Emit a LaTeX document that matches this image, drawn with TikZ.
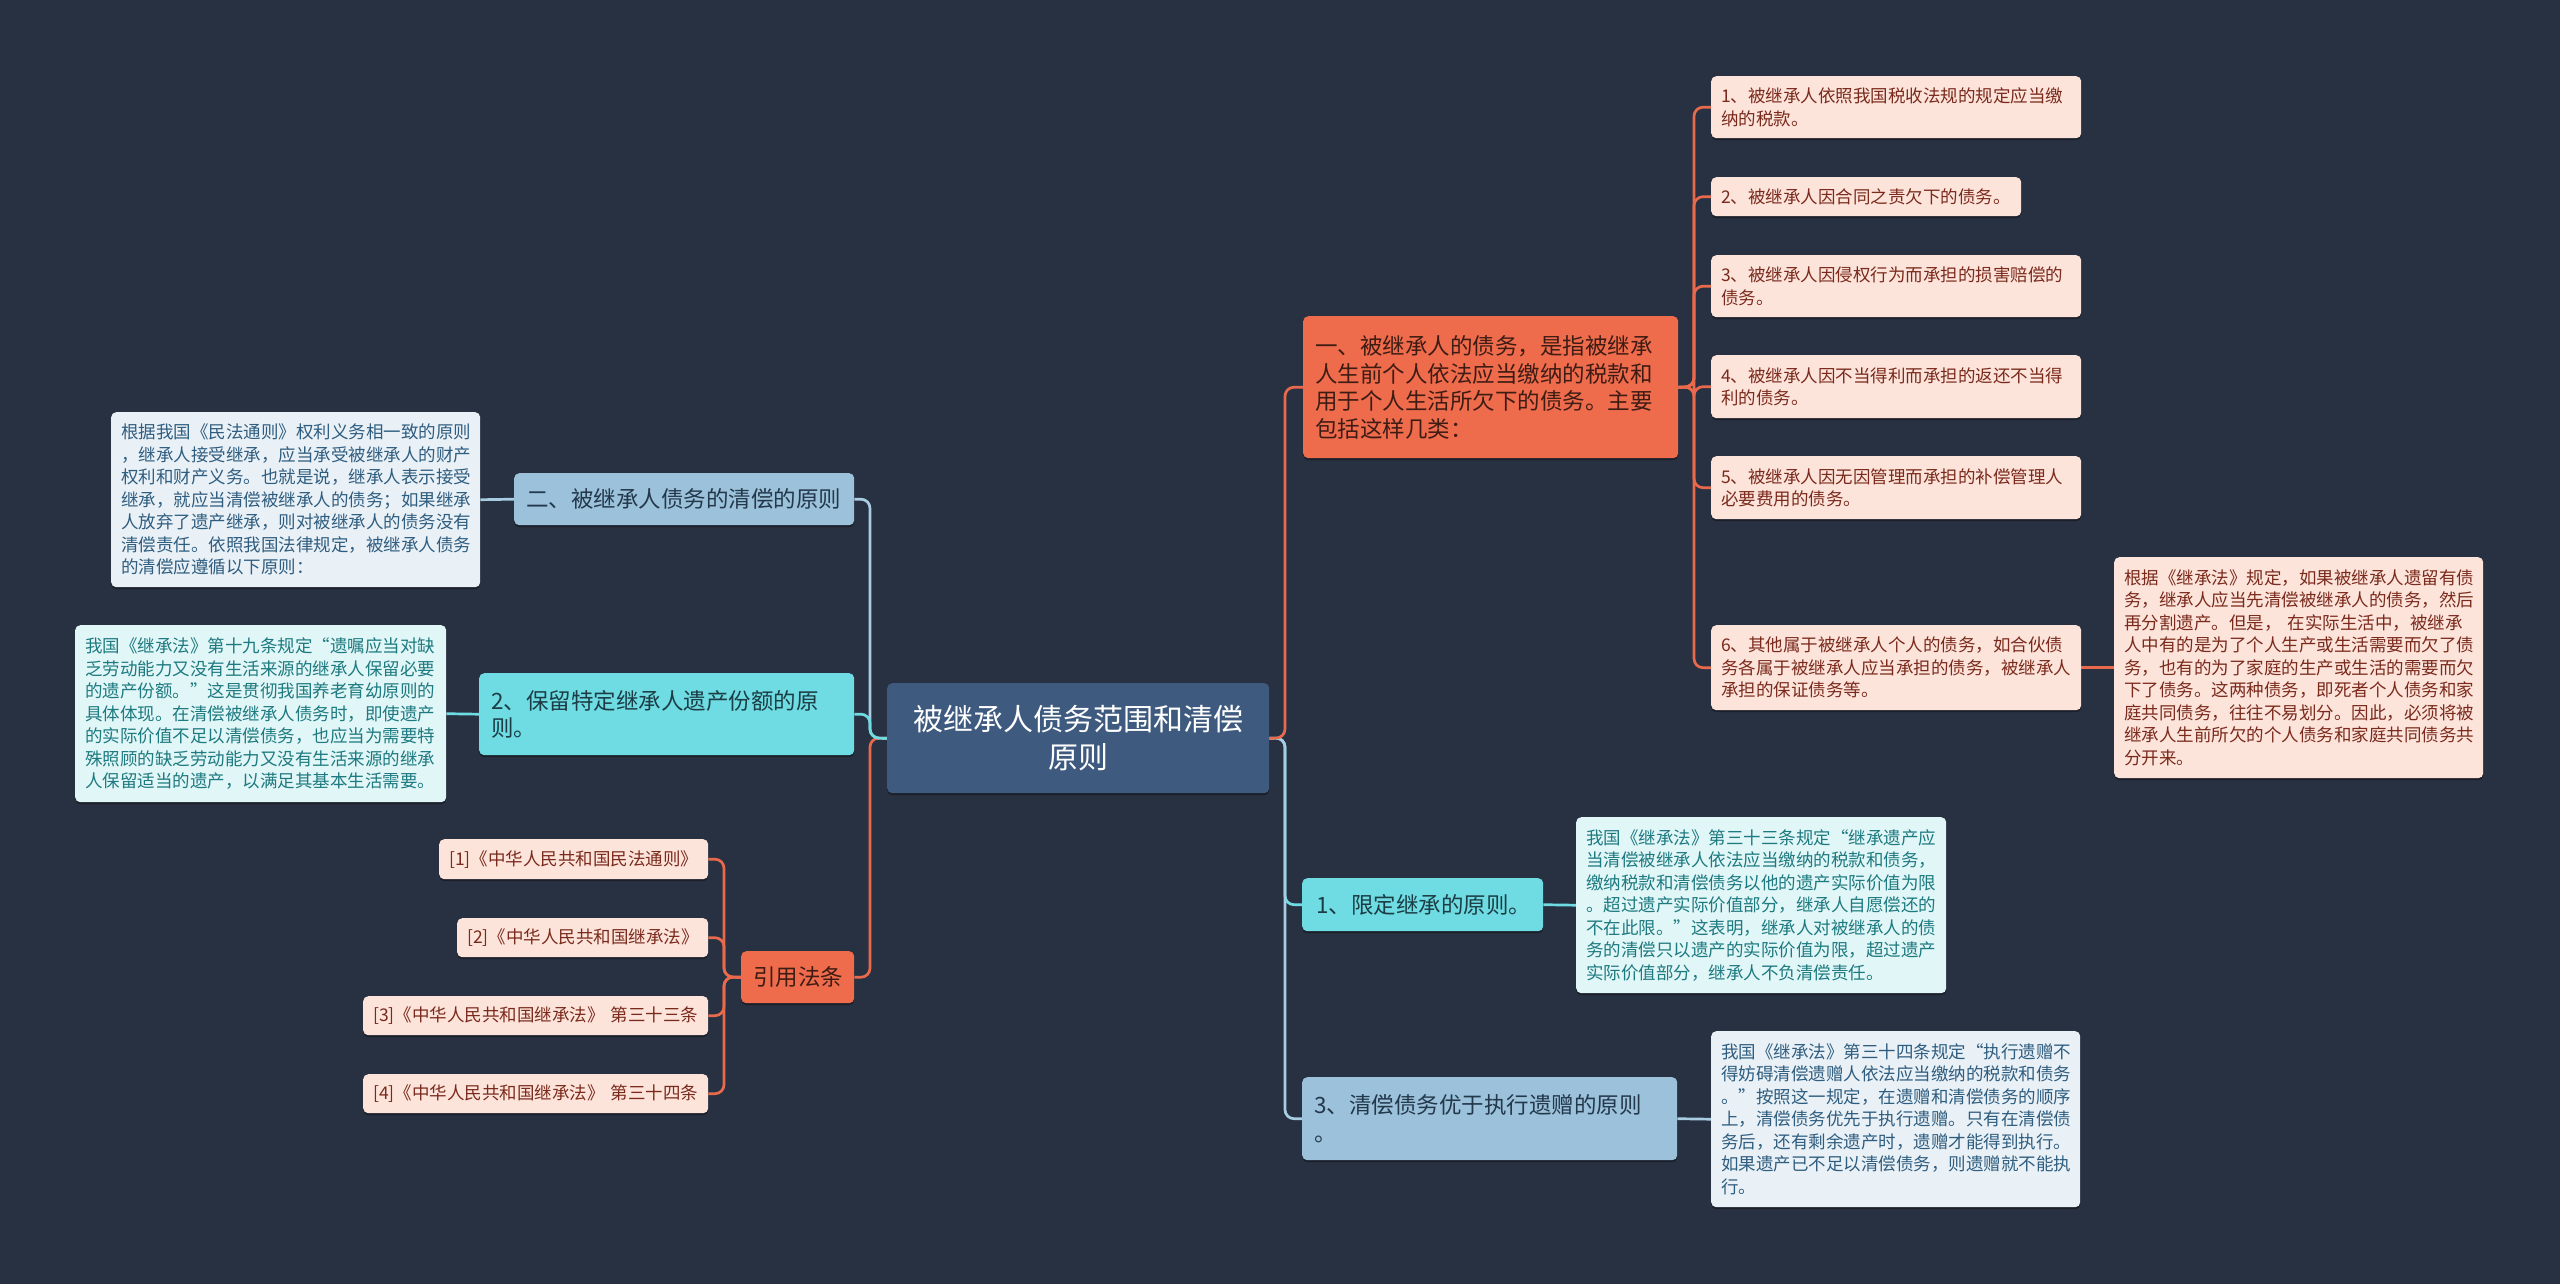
\documentclass[tikz,border=0pt]{standalone}
\usepackage{fontspec}
\setmainfont{Noto Sans CJK SC}
\usetikzlibrary{shadows,backgrounds}
\definecolor{bg}{HTML}{283141}
\definecolor{ctrfill}{HTML}{3E5A7E}
\definecolor{orng}{HTML}{EE6B4C}
\definecolor{orngline}{HTML}{E8694B}
\definecolor{orngtext}{HTML}{3E1C14}
\definecolor{pink}{HTML}{FDE4DB}
\definecolor{pinktext}{HTML}{7A2A1C}
\definecolor{lblue}{HTML}{9BC2DA}
\definecolor{lblueline}{HTML}{A8CDE3}
\definecolor{lbluetext}{HTML}{24384C}
\definecolor{cyan}{HTML}{6EDCE2}
\definecolor{cyantext}{HTML}{1C3D45}
\definecolor{noteblue}{HTML}{E9F1F7}
\definecolor{notebluetext}{HTML}{2F5D7F}
\definecolor{notecyan}{HTML}{E1F6F7}
\definecolor{notecyantext}{HTML}{1D7A80}
\tikzset{
  basebox/.style={rounded corners=5pt, inner ysep=0pt, anchor=north west, align=left,
    drop shadow={shadow xshift=0pt, shadow yshift=-2pt, opacity=0.35, fill=black}},
  big/.style={basebox, inner xsep=12pt, font=\fontsize{22.5}{27.5}\selectfont},
  small/.style={basebox, inner xsep=10pt, font=\fontsize{17.5}{22.5}\selectfont},
  ctrbox/.style={basebox, fill=ctrfill, text=white, align=center, inner xsep=12pt,
    font=\fontsize{30}{38}\selectfont},
  orbox/.style={big, fill=orng, text=orngtext},
  lbbox/.style={big, fill=lblue, text=lbluetext},
  cybox/.style={big, fill=cyan, text=cyantext},
  leaf/.style={small, fill=pink, text=pinktext},
  nblue/.style={small, fill=noteblue, text=notebluetext},
  ncyan/.style={small, fill=notecyan, text=notecyantext},
  oline/.style={draw=orngline, line width=2.7pt, rounded corners=9pt},
  bline/.style={draw=lblueline, line width=2.7pt, rounded corners=9pt},
  cline/.style={draw=cyan, line width=2.7pt, rounded corners=9pt},
}
\begin{document}
\begin{tikzpicture}[x=1pt, y=-1pt]
\useasboundingbox (0,0) rectangle (2560,1283);

% center
\node[ctrbox, text width=358pt, minimum height=110pt] (ctr) at (887,683) {被继承人债务范围和清偿\\原则};

% right first level
\node[orbox, text width=351pt, minimum height=142pt] (A) at (1303,316)
 {一、被继承人的债务，是指被继承\\人生前个人依法应当缴纳的税款和\\用于个人生活所欠下的债务。主要\\包括这样几类：};
\node[cybox, inner xsep=14pt, text width=213pt, minimum height=53pt] (B) at (1302,878) {1、限定继承的原则。};
\node[lbbox, text width=351pt, minimum height=83pt] (C) at (1302,1077) {3、清偿债务优于执行遗赠的原则\\。};

% leaves of A
\node[leaf, text width=350pt, minimum height=62pt] (L1) at (1711,76) {1、被继承人依照我国税收法规的规定应当缴\\纳的税款。};
\node[leaf, text width=290pt, minimum height=39pt] (L2) at (1711,177) {2、被继承人因合同之责欠下的债务。};
\node[leaf, text width=350pt, minimum height=62pt] (L3) at (1711,255) {3、被继承人因侵权行为而承担的损害赔偿的\\债务。};
\node[leaf, text width=350pt, minimum height=63pt] (L4) at (1711,355) {4、被继承人因不当得利而承担的返还不当得\\利的债务。};
\node[leaf, text width=350pt, minimum height=63pt] (L5) at (1711,456) {5、被继承人因无因管理而承担的补偿管理人\\必要费用的债务。};
\node[leaf, text width=350pt, minimum height=85pt] (L6) at (1711,625) {6、其他属于被继承人个人的债务，如合伙债\\务各属于被继承人应当承担的债务，被继承人\\承担的保证债务等。};
\node[leaf, text width=349pt, minimum height=221pt] (L6c) at (2114,557)
 {根据《继承法》规定，如果被继承人遗留有债\\务，继承人应当先清偿被继承人的债务，然后\\再分割遗产。但是，\ 在实际生活中，被继承\\人中有的是为了个人生产或生活需要而欠了债\\务，也有的为了家庭的生产或生活的需要而欠\\下了债务。这两种债务，即死者个人债务和家\\庭共同债务，往往不易划分。因此，必须将被\\继承人生前所欠的个人债务和家庭共同债务共\\分开来。};

% notes of B, C
\node[ncyan, text width=350pt, minimum height=176pt] (Bc) at (1576,817)
 {我国《继承法》第三十三条规定“继承遗产应\\当清偿被继承人依法应当缴纳的税款和债务，\\缴纳税款和清偿债务以他的遗产实际价值为限\\。超过遗产实际价值部分，继承人自愿偿还的\\不在此限。”这表明，继承人对被继承人的债\\务的清偿只以遗产的实际价值为限，超过遗产\\实际价值部分，继承人不负清偿责任。};
\node[nblue, text width=349pt, minimum height=176pt] (Cc) at (1711,1031)
 {我国《继承法》第三十四条规定“执行遗赠不\\得妨碍清偿遗赠人依法应当缴纳的税款和债务\\。”按照这一规定，在遗赠和清偿债务的顺序\\上，清偿债务优先于执行遗赠。只有在清偿债\\务后，还有剩余遗产时，遗赠才能得到执行。\\如果遗产已不足以清偿债务，则遗赠就不能执\\行。};

% left first level
\node[lbbox, text width=316pt, minimum height=52pt] (D) at (514,473) {二、被继承人债务的清偿的原则};
\node[cybox, text width=351pt, minimum height=82pt] (E) at (479,673) {2、保留特定继承人遗产份额的原\\则。};
\node[orbox, text width=89pt, minimum height=52pt, align=center] (F) at (741,951) {引用法条};

% notes of D, E
\node[nblue, text width=349pt, minimum height=175pt] (Dc) at (111,412)
 {根据我国《民法通则》权利义务相一致的原则\\，继承人接受继承，应当承受被继承人的财产\\权利和财产义务。也就是说，继承人表示接受\\继承，就应当清偿被继承人的债务；如果继承\\人放弃了遗产继承，则对被继承人的债务没有\\清偿责任。依照我国法律规定，被继承人债务\\的清偿应遵循以下原则：};
\node[ncyan, text width=351pt, minimum height=177pt] (Ec) at (75,625)
 {我国《继承法》第十九条规定“遗嘱应当对缺\\乏劳动能力又没有生活来源的继承人保留必要\\的遗产份额。”这是贯彻我国养老育幼原则的\\具体体现。在清偿被继承人债务时，即使遗产\\的实际价值不足以清偿债务，也应当为需要特\\殊照顾的缺乏劳动能力又没有生活来源的继承\\人保留适当的遗产，以满足其基本生活需要。};

% references
\node[leaf, text width=249pt, minimum height=40pt, align=right] (R1) at (439,839) {[1]《中华人民共和国民法通则》};
\node[leaf, text width=231pt, minimum height=39pt, align=right] (R2) at (457,918) {[2]《中华人民共和国继承法》};
\node[leaf, text width=325pt, minimum height=39pt, align=right] (R3) at (363,996) {[3]《中华人民共和国继承法》 第三十三条};
\node[leaf, text width=325pt, minimum height=39pt, align=right] (R4) at (363,1074) {[4]《中华人民共和国继承法》 第三十四条};

% trunk coordinates
\coordinate (rt) at (1285,738);
\coordinate (lt) at (870,738);
\coordinate (at) at (1694,387);
\coordinate (ft) at (724,977);

\begin{scope}[on background layer]
\fill[bg] (-10,-10) rectangle (2570,1293);
% right side
\draw[cline] (ctr.east) -- (rt) |- (B.west);
\draw[bline] (ctr.east) -- (rt) |- (C.west);
\draw[oline] (ctr.east) -- (rt) |- (A.west);
\foreach \n in {L1,L2,L3,L4,L5,L6} \draw[oline] (A.east) -- (at) |- (\n.west);
\draw[oline] (L6.east) -- (L6c.west);
\draw[cline] (B.east) -- (Bc.west);
\draw[bline] (C.east) -- (Cc.west);
% left side
\draw[oline] (ctr.west) -- (lt) |- (F.east);
\draw[bline] (ctr.west) -- (lt) |- (D.east);
\draw[cline] (ctr.west) -- (lt) |- (E.east);
\draw[bline] (D.west) -- (Dc.east);
\draw[cline] (E.west) -- (Ec.east);
\foreach \n in {R1,R2,R3,R4} \draw[oline] (F.west) -- (ft) |- (\n.east);
\end{scope}
\end{tikzpicture}
\end{document}
